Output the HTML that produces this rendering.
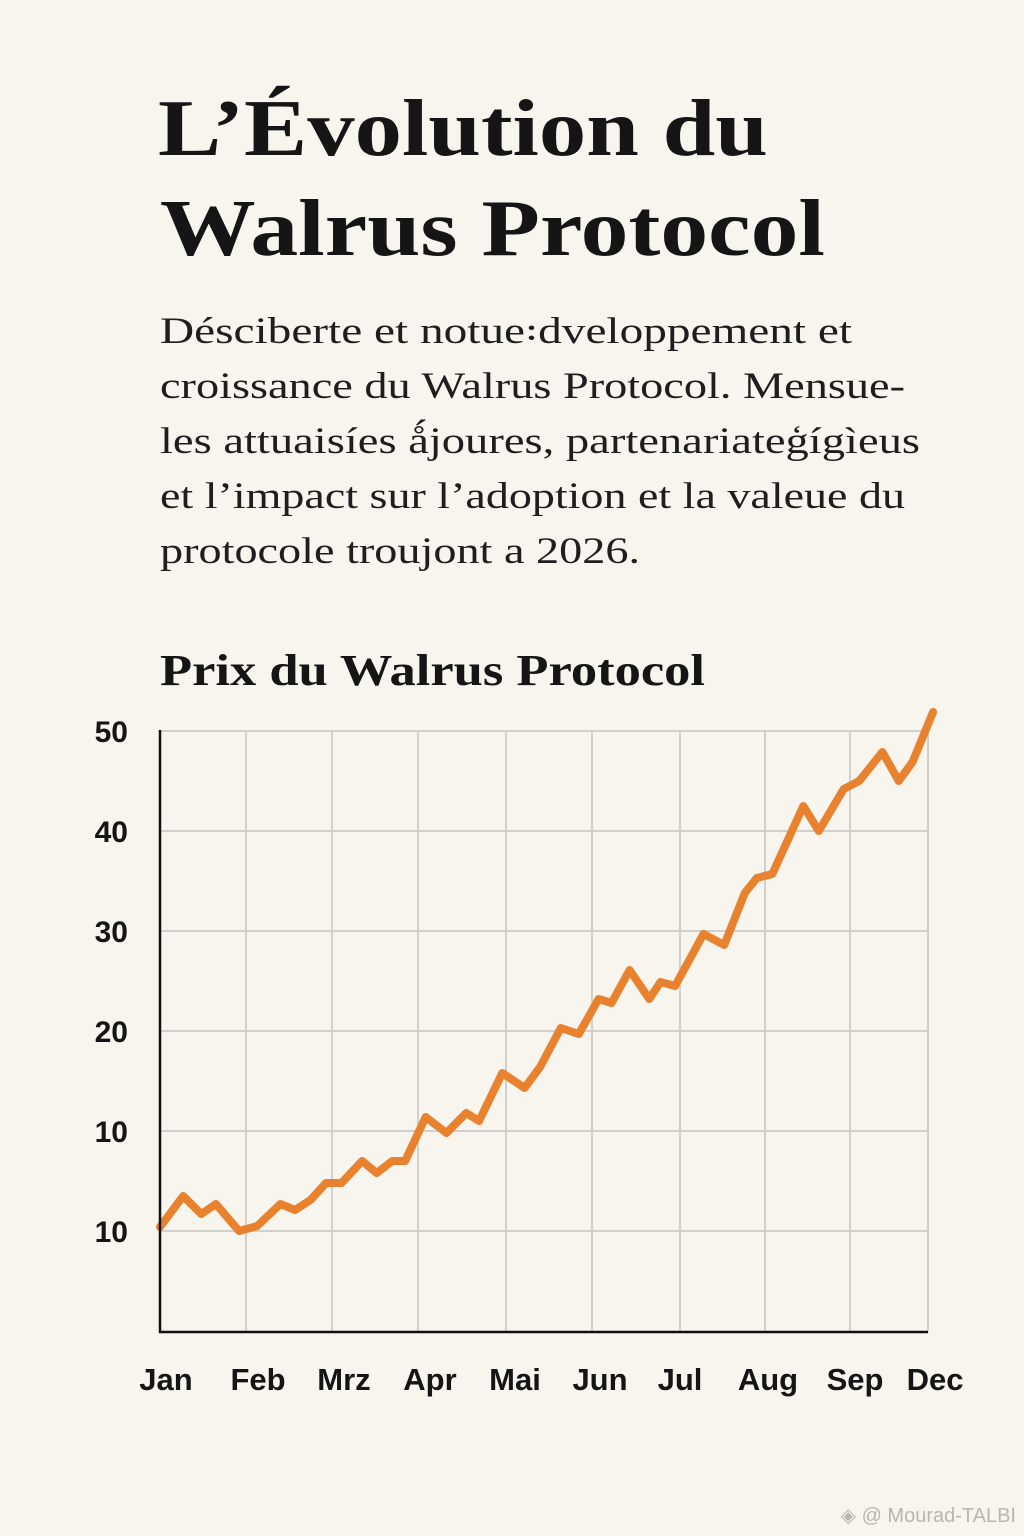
<!DOCTYPE html>
<html><head><meta charset="utf-8"><style>
html,body{margin:0;padding:0;background:#f8f4ee;}
svg{display:block;}
.serif{font-family:"Liberation Serif","DejaVu Serif",serif;}
.sans{font-family:"Liberation Sans","DejaVu Sans",sans-serif;}
</style></head><body>
<svg id="chart" width="1024" height="1536" viewBox="0 0 1024 1536" xmlns="http://www.w3.org/2000/svg">
<rect width="1024" height="1536" fill="#f8f4ee"/>
<g class="serif" font-weight="bold" fill="#151515" font-size="80">
<text x="158" y="155" textLength="610" lengthAdjust="spacingAndGlyphs">L’Évolution du</text>
<text x="160" y="255" textLength="665" lengthAdjust="spacingAndGlyphs">Walrus Protocol</text>
</g>
<g class="serif" fill="#1e1e1e" font-size="37">
<text x="160" y="343" textLength="692" lengthAdjust="spacingAndGlyphs">Désciberte et notue꞉dveloppement et</text>
<text x="160" y="398" textLength="745" lengthAdjust="spacingAndGlyphs">croissance du Walrus Protocol. Mensue-</text>
<text x="160" y="453" textLength="760" lengthAdjust="spacingAndGlyphs">les attuaisíes ǻjoures, partenariateģígìeus</text>
<text x="160" y="508" textLength="745" lengthAdjust="spacingAndGlyphs">et l’impact sur l’adoption et la valeue du</text>
<text x="160" y="563" textLength="480" lengthAdjust="spacingAndGlyphs">protocole troujont a 2026.</text>
</g>
<text x="160" y="685" class="serif" font-weight="bold" font-size="44" fill="#151515" textLength="545" lengthAdjust="spacingAndGlyphs">Prix du Walrus Protocol</text>
<g id="grid"></g>
<g id="yticks"></g>
<g id="xticks"></g>
<g id="series"></g>
<line x1="160" y1="730" x2="160" y2="1333" stroke="#111" stroke-width="2.5"/>
<line x1="159" y1="1332" x2="928" y2="1332" stroke="#111" stroke-width="2.5"/>
<text x="1016" y="1522" text-anchor="end" class="sans" font-size="20" fill="#b9b6b1">◈ @ Mourad-TALBI</text>
</svg>
<script>
const yTickValues = [50, 40, 30, 20, 10, 0];
const yTickLabels = ["50", "40", "30", "20", "10", "10"];
const xCategories = ["Jan", "Feb", "Mrz", "Apr", "Mai", "Jun", "Jul", "Aug", "Sep", "Dec"];
const priceMonths = [0,0.27,0.48,0.65,0.92,1.13,1.40,1.57,1.75,1.93,2.11,2.35,2.52,2.70,2.85,3.09,3.33,3.56,3.71,3.98,4.24,4.42,4.66,4.87,5.10,5.25,5.46,5.69,5.82,5.99,6.32,6.56,6.80,6.94,7.12,7.48,7.66,7.95,8.13,8.40,8.59,8.75,8.99];
const priceValues = [0.4,3.5,1.7,2.7,0,0.5,2.7,2.1,3.1,4.8,4.8,7.0,5.8,7.0,7.0,11.4,9.8,11.8,11.0,15.8,14.3,16.4,20.3,19.7,23.2,22.8,26.1,23.2,24.9,24.5,29.7,28.6,33.8,35.3,35.7,42.5,40.0,44.2,45.0,47.9,45.0,46.9,51.9];

const NS = "http://www.w3.org/2000/svg";
function yScale(v){ return 1231 - v * 10; }
function xScale(m){ return 160 + m * 86; }

const grid = document.getElementById('grid');
yTickValues.forEach(v => {
  const l = document.createElementNS(NS, 'line');
  l.setAttribute('x1', 160); l.setAttribute('x2', 928);
  l.setAttribute('y1', yScale(v)); l.setAttribute('y2', yScale(v));
  l.setAttribute('stroke', '#d2d0cc'); l.setAttribute('stroke-width', '2');
  
  
  grid.appendChild(l);
});
const vx = [246, 332, 418, 506, 592, 680, 765, 850, 928];
vx.forEach(x => {
  const l = document.createElementNS(NS, 'line');
  l.setAttribute('x1', x); l.setAttribute('x2', x);
  l.setAttribute('y1', 731); l.setAttribute('y2', 1332);
  l.setAttribute('stroke', '#d2d0cc'); l.setAttribute('stroke-width', '2');
  
  
  grid.appendChild(l);
});

const yt = document.getElementById('yticks');
yTickValues.forEach((v, i) => {
  const t = document.createElementNS(NS, 'text');
  t.setAttribute('x', 128); t.setAttribute('y', yScale(v) + 11);
  t.setAttribute('text-anchor', 'end');
  t.setAttribute('class', 'sans'); t.setAttribute('font-weight', 'bold');
  t.setAttribute('font-size', '30'); t.setAttribute('fill', '#151515');
  t.textContent = yTickLabels[i];
  
  
  yt.appendChild(t);
});

const xt = document.getElementById('xticks');
const xLabelPos = [166, 258, 344, 430, 515, 600, 680, 768, 855, 935];
xCategories.forEach((c, i) => {
  const t = document.createElementNS(NS, 'text');
  t.setAttribute('x', xLabelPos[i]); t.setAttribute('y', 1390);
  t.setAttribute('text-anchor', 'middle');
  t.setAttribute('class', 'sans'); t.setAttribute('font-weight', 'bold');
  t.setAttribute('font-size', '31'); t.setAttribute('fill', '#151515');
  t.textContent = c;
  
  
  xt.appendChild(t);
});

const series = document.getElementById('series');
const d = priceMonths.map((m, i) => (i ? 'L' : 'M') + xScale(m).toFixed(1) + ' ' + yScale(priceValues[i]).toFixed(1)).join(' ');
const p = document.createElementNS(NS, 'path');
p.setAttribute('d', d);
p.setAttribute('fill', 'none'); p.setAttribute('stroke', '#e8822e');
p.setAttribute('stroke-width', '8'); p.setAttribute('stroke-linejoin', 'round'); p.setAttribute('stroke-linecap', 'round');


series.appendChild(p);
</script>
</body></html>
